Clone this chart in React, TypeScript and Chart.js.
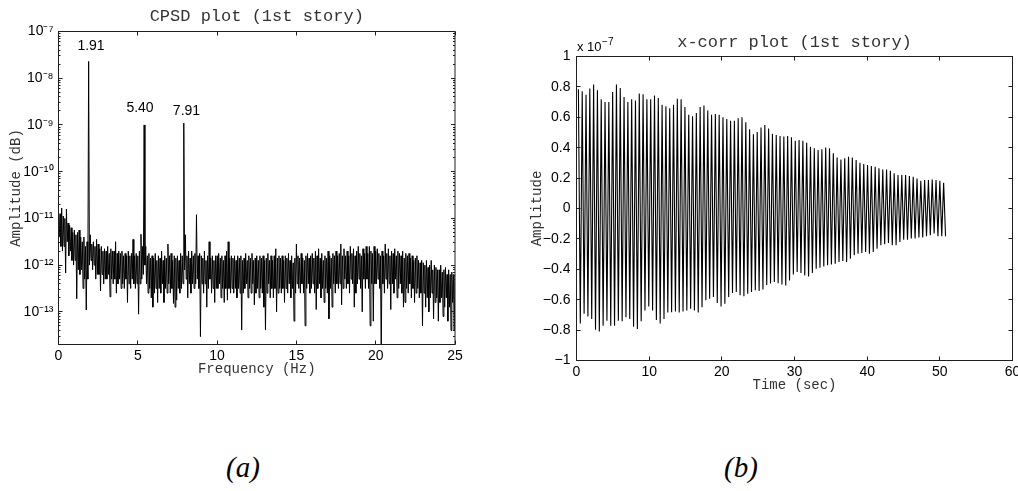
import React, { useEffect, useRef } from 'react';
import { Chart, registerables } from 'chart.js';

Chart.register(...registerables);

// ---------- (a) CPSD plot ----------
// Amplitude exponents (log10) read per 0.1 Hz bin: the local top (hi) at the bin start
// and the local bottom (lo) half a bin later.
const FREQ_STEP_HZ = 0.1;
const cpsdHiLog10_0to5 = [
  -10.85, -10.9, -10.78, -10.95, -11.0, -10.8, -11.1, -11.15, -11.2, -11.3,
  -11.25, -11.35, -11.3, -11.25, -11.4, -11.5, -11.4, -11.6, -11.5, -7.64,
  -11.35, -11.55, -11.5, -11.6, -11.45, -11.55, -11.65, -11.6, -11.7, -11.65,
  -11.7, -11.6, -11.75, -11.65, -11.7, -11.7, -11.5, -11.75, -11.7, -11.75,
  -11.7, -11.8, -11.75, -11.8, -11.7, -11.8, -11.75, -11.45, -11.8, -11.75,
];
const cpsdLoLog10_0to5 = [
  -11.4, -11.6, -11.7, -11.6, -12.17, -11.5, -11.8, -11.7, -11.9, -12.0,
  -11.9, -12.72, -12.1, -12.2, -12.1, -12.5, -12.3, -12.96, -12.3, -12.0,
  -11.9, -12.1, -12.0, -12.3, -12.2, -12.2, -12.55, -12.2, -12.4, -12.3,
  -12.3, -12.2, -12.68, -12.3, -12.4, -12.3, -12.6, -12.4, -12.3, -12.5,
  -12.4, -12.5, -12.3, -12.8, -12.4, -12.5, -12.3, -12.4, -12.5, -12.4,
];
const cpsdHiLog10_5to10 = [
  -11.8, -11.7, -11.34, -11.6, -9.0, -11.6, -11.8, -11.75, -11.85, -11.8,
  -11.85, -11.75, -11.9, -11.8, -11.85, -11.7, -11.9, -11.8, -11.85, -11.55,
  -11.8, -11.75, -11.9, -11.8, -11.85, -11.8, -11.9, -11.75, -11.8, -8.96,
  -11.35, -11.8, -11.7, -11.85, -11.7, -11.8, -11.75, -10.92, -11.8, -11.75,
  -11.8, -11.85, -11.7, -11.9, -11.8, -11.5, -11.85, -11.8, -11.9, -11.8,
];
const cpsdLoLog10_5to10 = [
  -13.05, -12.4, -12.3, -12.2, -12.0, -12.4, -12.6, -12.5, -12.7, -12.9,
  -12.6, -12.5, -12.8, -12.5, -12.6, -12.4, -12.8, -12.5, -12.6, -12.4,
  -12.6, -12.5, -12.82, -12.9, -12.75, -12.5, -12.6, -12.5, -12.4, -12.1,
  -12.3, -12.7, -12.4, -12.6, -12.4, -12.5, -12.4, -12.3, -12.5, -13.53,
  -12.4, -12.6, -12.4, -12.9, -12.5, -12.3, -12.6, -12.5, -12.8, -12.5,
];
const cpsdHiLog10_10to15 = [
  -11.8, -11.75, -11.85, -11.8, -11.9, -11.8, -11.7, -11.5, -11.85, -11.8,
  -11.85, -11.8, -11.9, -11.8, -11.85, -11.8, -11.9, -11.85, -11.75, -11.9,
  -11.8, -11.85, -11.75, -11.9, -11.85, -11.8, -11.9, -11.8, -11.85, -11.8,
  -11.9, -11.85, -11.75, -11.9, -11.8, -11.9, -11.8, -11.65, -11.85, -11.8,
  -11.85, -11.8, -11.9, -11.8, -11.85, -11.75, -11.9, -11.8, -11.95, -11.85,
];
const cpsdLoLog10_10to15 = [
  -12.5, -12.4, -12.7, -12.5, -12.8, -12.5, -12.75, -12.5, -12.6, -12.5,
  -12.6, -12.5, -12.7, -12.5, -12.6, -13.39, -12.6, -12.5, -12.4, -12.7,
  -12.5, -12.6, -12.4, -12.85, -12.6, -12.5, -12.7, -12.5, -12.6, -12.9,
  -13.39, -12.6, -12.4, -12.7, -12.5, -12.7, -12.5, -13.0, -12.6, -12.5,
  -12.6, -12.5, -12.8, -12.5, -12.6, -12.4, -12.7, -12.5, -13.2, -12.6,
];
const cpsdHiLog10_15to20 = [
  -11.55, -11.8, -11.85, -11.75, -11.85, -11.9, -11.8, -11.75, -11.85, -11.8,
  -11.75, -11.85, -11.7, -11.8, -11.65, -11.85, -11.75, -11.9, -11.8, -11.85,
  -11.7, -11.8, -11.85, -11.75, -11.8, -11.7, -11.8, -11.75, -11.55, -11.8,
  -11.65, -11.8, -11.7, -11.8, -11.6, -11.75, -11.65, -11.8, -11.7, -11.6,
  -11.75, -11.8, -11.65, -11.75, -11.6, -11.75, -11.6, -11.7, -11.75, -11.6,
];
const cpsdLoLog10_15to20 = [
  -12.4, -12.5, -12.6, -12.4, -12.6, -13.3, -12.5, -12.4, -12.6, -12.5,
  -12.4, -12.6, -12.95, -12.5, -12.4, -12.7, -12.5, -12.8, -12.5, -12.6,
  -13.15, -12.5, -12.9, -12.4, -12.6, -12.4, -12.5, -12.4, -12.85, -12.5,
  -12.3, -12.5, -12.4, -12.6, -12.3, -12.4, -12.9, -12.6, -12.4, -12.3,
  -12.5, -13.0, -12.3, -12.5, -12.3, -12.5, -13.3, -12.4, -13.2, -12.4,
];
const cpsdHiLog10_20to25 = [
  -11.7, -11.65, -11.75, -11.8, -11.7, -11.8, -11.55, -11.75, -11.65, -11.8,
  -11.7, -11.75, -11.65, -11.8, -11.7, -11.75, -11.8, -11.7, -11.85, -11.75,
  -11.8, -11.75, -11.85, -11.8, -11.9, -11.85, -11.8, -11.9, -11.95, -11.9,
  -11.95, -12.0, -11.9, -12.05, -12.0, -11.9, -12.1, -12.0, -12.05, -12.1,
  -12.1, -12.0, -12.15, -12.1, -12.05, -12.2, -12.1, -12.2, -12.15, -12.2,
  -12.2,
];
const cpsdLoLog10_20to25 = [
  -12.4, -12.3, -12.5, -14.0, -12.4, -12.6, -12.3, -12.5, -12.4, -12.95,
  -12.4, -12.6, -12.3, -12.7, -12.5, -12.4, -12.6, -12.9, -12.8, -12.5,
  -12.6, -12.4, -12.7, -12.5, -12.8, -12.6, -12.5, -12.7, -12.6, -13.3,
  -12.6, -12.9, -12.7, -13.0, -12.7, -12.6, -13.15, -12.8, -12.7, -13.2,
  -12.8, -12.7, -13.1, -12.9, -12.7, -13.2, -12.9, -13.4, -12.8, -13.4,
  -12.6,
];
const freqTicks = [0, 5, 10, 15, 20, 25];
const ampDecadeTicks = [1e-13, 1e-12, 1e-11, 1e-10, 1e-9, 1e-8, 1e-7];
const peakLabels = ['1.91', '5.40', '7.91'];
const peakLabelFreq = [2.05, 5.14, 8.07];
const peakLabelAmp = [4.8e-8, 2.3e-9, 1.95e-9];

// ---------- (b) x-corr plot : peak / trough amplitudes (x 1e-7) of each cycle ----------
const CORR_FREQ_HZ = 1.91;
const corrPeaks = [
  0.784, 0.771, 0.749, 0.789, 0.816, 0.778, 0.718, 0.70, 0.70, 0.767,
  0.816, 0.793, 0.733, 0.70, 0.718, 0.711, 0.756, 0.751, 0.718, 0.718,
  0.744, 0.727, 0.682, 0.673, 0.66, 0.682, 0.722, 0.718, 0.667, 0.616,
  0.607, 0.629, 0.667, 0.678, 0.644, 0.616, 0.622, 0.616, 0.60, 0.589,
  0.578, 0.578, 0.593, 0.60, 0.567, 0.522, 0.489, 0.504, 0.533, 0.549,
  0.527, 0.492,
  0.484, 0.477, 0.473, 0.477, 0.468, 0.446, 0.451, 0.446, 0.433, 0.407,
  0.396, 0.385, 0.389, 0.402, 0.396, 0.363, 0.336, 0.323, 0.330, 0.341,
  0.336, 0.319, 0.301, 0.292, 0.286, 0.279, 0.275, 0.264, 0.257, 0.257,
  0.248, 0.231, 0.220, 0.220, 0.220, 0.213, 0.209, 0.198, 0.182, 0.187,
  0.187, 0.191, 0.187, 0.182, 0.169,
];
const corrTroughs = [
  -0.756, -0.693, -0.711, -0.727, -0.798, -0.809, -0.771, -0.738, -0.771, -0.771,
  -0.738, -0.742, -0.716, -0.727, -0.778, -0.793, -0.742, -0.671, -0.644, -0.671,
  -0.733, -0.756, -0.727, -0.684, -0.682, -0.678, -0.684, -0.678, -0.671, -0.66,
  -0.671, -0.684, -0.649, -0.604, -0.593, -0.582, -0.622, -0.644, -0.627, -0.582,
  -0.556, -0.549, -0.571, -0.578, -0.56, -0.549, -0.538, -0.542, -0.533, -0.504,
  -0.494,
  -0.484, -0.491, -0.50, -0.506, -0.473, -0.434, -0.418, -0.425, -0.440, -0.447,
  -0.425, -0.396, -0.390, -0.381, -0.374, -0.368, -0.363, -0.352, -0.345, -0.352,
  -0.330, -0.308, -0.297, -0.293, -0.286, -0.297, -0.286, -0.264, -0.242, -0.235,
  -0.227, -0.242, -0.242, -0.220, -0.205, -0.205, -0.198, -0.198, -0.191, -0.191,
  -0.183, -0.176, -0.165, -0.183, -0.183, -0.183,
];
const timeTicks = [0, 10, 20, 30, 40, 50, 60];
const corrTicks = [-1, -0.8, -0.6, -0.4, -0.2, 0, 0.2, 0.4, 0.6, 0.8, 1];

// ---------- styling ----------
const MONO = "'Liberation Mono', 'Courier New', monospace";
const SANS = "'Liberation Sans', Arial, Helvetica, sans-serif";
const SUP: Record<string, string> = {
  '-': '\u207B', '0': '\u2070', '1': '\u00B9', '2': '\u00B2', '3': '\u00B3', '4': '\u2074',
  '5': '\u2075', '6': '\u2076', '7': '\u2077', '8': '\u2078', '9': '\u2079',
};
const decadeLabel = (v: number) =>
  '10' + String(Math.round(Math.log10(v))).split('').map((c) => SUP[c] || c).join('');
const corrLabel = (v: number) => {
  if (Math.abs(v) < 1e-9) return '0';
  const s = Math.abs(Math.abs(v) - 1) < 1e-9 ? '1' : Math.abs(v).toFixed(1);
  return (v < 0 ? '\u2212' : '') + s;
};

function framePlugin(minorLog: boolean, extra?: (chart: any) => void) {
  return {
    id: 'frame',
    afterDraw(chart: any) {
      const { ctx, chartArea: a, scales } = chart;
      const xs = scales.x;
      const ys = scales.y;
      const L = 4;
      const Lm = 2;
      ctx.save();
      ctx.strokeStyle = '#1e1e1e';
      ctx.lineWidth = 1;
      ctx.beginPath();
      xs.ticks.forEach((t: any) => {
        const p = Math.floor(xs.getPixelForValue(t.value)) + 0.5;
        ctx.moveTo(p, a.bottom);
        ctx.lineTo(p, a.bottom - L);
        ctx.moveTo(p, a.top);
        ctx.lineTo(p, a.top + L);
      });
      ys.ticks.forEach((t: any) => {
        const p = Math.floor(ys.getPixelForValue(t.value)) + 0.5;
        ctx.moveTo(a.left, p);
        ctx.lineTo(a.left + L, p);
        ctx.moveTo(a.right, p);
        ctx.lineTo(a.right - L, p);
      });
      if (minorLog) {
        const lo = Math.floor(Math.log10(ys.min));
        const hi = Math.ceil(Math.log10(ys.max));
        for (let d = lo; d < hi; d++) {
          for (let m = 2; m <= 9; m++) {
            const v = m * Math.pow(10, d);
            if (v < ys.min || v > ys.max) continue;
            const p = Math.floor(ys.getPixelForValue(v)) + 0.5;
            ctx.moveTo(a.left, p);
            ctx.lineTo(a.left + Lm, p);
            ctx.moveTo(a.right, p);
            ctx.lineTo(a.right - Lm, p);
          }
        }
      }
      ctx.stroke();
      ctx.strokeRect(a.left, a.top, a.right - a.left, a.bottom - a.top);
      if (extra) extra(chart);
      ctx.restore();
    },
  };
}

const tickFont = { family: SANS, size: 14 };

export default function App() {
  const leftRef = useRef<HTMLCanvasElement>(null);
  const rightRef = useRef<HTMLCanvasElement>(null);

  useEffect(() => {
    const hi = [
      ...cpsdHiLog10_0to5, ...cpsdHiLog10_5to10, ...cpsdHiLog10_10to15,
      ...cpsdHiLog10_15to20, ...cpsdHiLog10_20to25,
    ];
    const lo = [
      ...cpsdLoLog10_0to5, ...cpsdLoLog10_5to10, ...cpsdLoLog10_10to15,
      ...cpsdLoLog10_15to20, ...cpsdLoLog10_20to25,
    ];
    const cpsdPoints: { x: number; y: number }[] = [];
    hi.forEach((e, i) => {
      cpsdPoints.push({ x: i * FREQ_STEP_HZ, y: Math.pow(10, e) });
      cpsdPoints.push({ x: (i + 0.5) * FREQ_STEP_HZ, y: Math.pow(10, lo[i]) });
    });

    const corrPoints: { x: number; y: number }[] = [];
    corrPeaks.forEach((pk, i) => {
      corrPoints.push({ x: (i + 0.5) / CORR_FREQ_HZ, y: pk });
      corrPoints.push({ x: (i + 1) / CORR_FREQ_HZ, y: corrTroughs[i] });
    });

    const peakText = (chart: any) => {
      const { ctx, scales } = chart;
      ctx.fillStyle = '#000';
      ctx.font = `14px ${SANS}`;
      ctx.textAlign = 'center';
      ctx.textBaseline = 'middle';
      peakLabels.forEach((t, i) => {
        ctx.fillText(t, scales.x.getPixelForValue(peakLabelFreq[i]), scales.y.getPixelForValue(peakLabelAmp[i]));
      });
    };

    const multiplierText = (chart: any) => {
      const { ctx, chartArea: a } = chart;
      ctx.fillStyle = '#000';
      ctx.textAlign = 'left';
      ctx.textBaseline = 'alphabetic';
      ctx.font = `13px ${SANS}`;
      ctx.fillText('x 10', a.left + 0.5, a.top - 6);
      const w = ctx.measureText('x 10').width;
      ctx.font = `10px ${SANS}`;
      ctx.fillText('\u22127', a.left + 1 + w, a.top - 12);
    };

    const left = new Chart(leftRef.current as HTMLCanvasElement, {
      type: 'line',
      data: {
        datasets: [{
          data: cpsdPoints,
          borderColor: '#000',
          borderWidth: 1,
          pointRadius: 0,
          tension: 0,
          fill: false,
        }],
      },
      options: {
        animation: false,
        responsive: false,
        devicePixelRatio: 1,
        parsing: false,
        layout: { padding: { left: 0, top: 0, right: 25, bottom: 0 } },
        plugins: {
          legend: { display: false },
          tooltip: { enabled: false },
          title: {
            display: true,
            text: 'CPSD plot (1st story)',
            fullSize: false,
            color: '#333',
            font: { family: MONO, size: 17, weight: 'normal' },
            padding: { top: 6.5, bottom: 4.6 },
          },
        },
        scales: {
          x: {
            type: 'linear',
            min: 0,
            max: 25,
            grid: { display: false, drawTicks: false },
            border: { display: false },
            ticks: { font: tickFont, color: '#000', padding: 3, autoSkip: false, maxRotation: 0 },
            afterBuildTicks: (s: any) => { s.ticks = freqTicks.map((v) => ({ value: v })); },
            afterFit: (s: any) => { s.height = 45.5; s.paddingLeft = 0; s.paddingRight = 0; },
            title: {
              display: true,
              text: 'Frequency (Hz)',
              color: '#333',
              font: { family: MONO, size: 14 },
              padding: { top: 0, bottom: 12.1 },
            },
          },
          y: {
            type: 'logarithmic',
            min: 2e-14,
            max: 1e-7,
            grid: { display: false, drawTicks: false },
            border: { display: false },
            ticks: {
              font: tickFont,
              color: '#000',
              padding: 5,
              autoSkip: false,
              callback: (v: any) => decadeLabel(Number(v)),
            },
            afterBuildTicks: (s: any) => { s.ticks = ampDecadeTicks.map((v) => ({ value: v })); },
            afterFit: (s: any) => { s.width = 58.5; s.paddingTop = 0; s.paddingBottom = 0; },
            title: {
              display: true,
              text: 'Amplitude (dB)',
              color: '#333',
              font: { family: MONO, size: 14 },
              padding: { top: 7.6, bottom: 0 },
            },
          },
        },
      } as any,
      plugins: [framePlugin(true, peakText)],
    });

    const right = new Chart(rightRef.current as HTMLCanvasElement, {
      type: 'line',
      data: {
        datasets: [{
          data: corrPoints,
          borderColor: '#000',
          borderWidth: 1.1,
          pointRadius: 0,
          tension: 0,
          fill: false,
        }],
      },
      options: {
        animation: false,
        responsive: false,
        devicePixelRatio: 1,
        parsing: false,
        layout: { padding: { left: 0, top: 0, right: 5.5, bottom: 0 } },
        plugins: {
          legend: { display: false },
          tooltip: { enabled: false },
          title: {
            display: true,
            text: 'x-corr plot (1st story)',
            fullSize: false,
            color: '#333',
            font: { family: MONO, size: 17, weight: 'normal' },
            padding: { top: 32.5, bottom: 3.6 },
          },
        },
        scales: {
          x: {
            type: 'linear',
            min: 0,
            max: 60,
            grid: { display: false, drawTicks: false },
            border: { display: false },
            ticks: { font: tickFont, color: '#000', padding: 3, autoSkip: false, maxRotation: 0 },
            afterBuildTicks: (s: any) => { s.ticks = timeTicks.map((v) => ({ value: v })); },
            afterFit: (s: any) => { s.height = 39.5; s.paddingLeft = 0; s.paddingRight = 0; },
            title: {
              display: true,
              text: 'Time (sec)',
              color: '#333',
              font: { family: MONO, size: 14 },
              padding: { top: 0, bottom: 6.6 },
            },
          },
          y: {
            type: 'linear',
            min: -1,
            max: 1,
            grid: { display: false, drawTicks: false },
            border: { display: false },
            ticks: {
              font: tickFont,
              color: '#000',
              padding: 6,
              autoSkip: false,
              callback: (v: any) => corrLabel(Number(v)),
            },
            afterBuildTicks: (s: any) => { s.ticks = corrTicks.map((v) => ({ value: v })); },
            afterFit: (s: any) => { s.width = 76.5; s.paddingTop = 0; s.paddingBottom = 0; },
            title: {
              display: true,
              text: 'Amplitude',
              color: '#333',
              font: { family: MONO, size: 14 },
              padding: { top: 28.6, bottom: 0 },
            },
          },
        },
      } as any,
      plugins: [framePlugin(false, multiplierText)],
    });

    return () => {
      left.destroy();
      right.destroy();
    };
  }, []);

  const caption = (cx: number): React.CSSProperties => ({
    position: 'absolute',
    left: cx - 50,
    top: 453,
    width: 100,
    textAlign: 'center',
    fontFamily: "'Liberation Serif', 'Times New Roman', serif",
    fontStyle: 'italic',
    fontSize: 29,
    lineHeight: '29px',
    color: '#000',
  });

  return (
    <div style={{ position: 'fixed', left: 0, top: 0, width: 1018, height: 491, background: '#fff', overflow: 'hidden' }}>
      <canvas ref={leftRef} width={480} height={390} style={{ position: 'absolute', left: 0, top: 0, width: 480, height: 390 }} />
      <canvas ref={rightRef} width={518} height={400} style={{ position: 'absolute', left: 500, top: 0, width: 518, height: 400 }} />
      <div style={caption(243)}>(a)</div>
      <div style={caption(741)}>(b)</div>
    </div>
  );
}
